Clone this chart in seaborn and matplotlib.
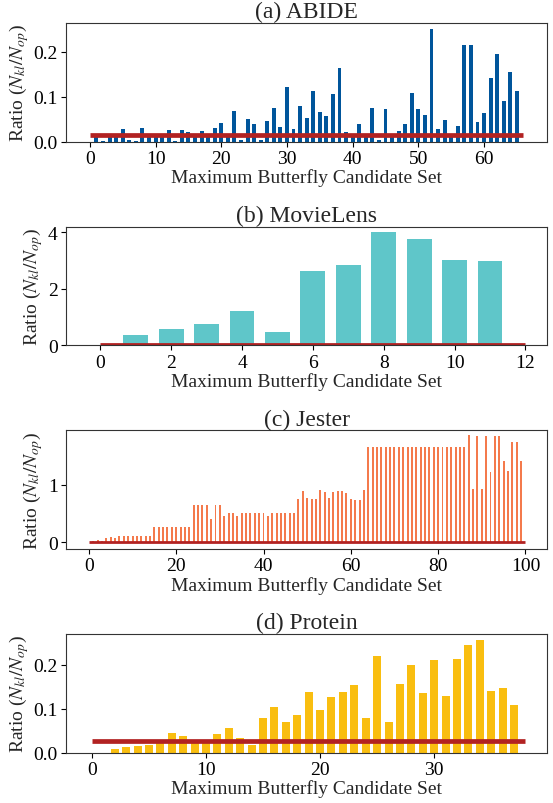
import numpy as np
import matplotlib
matplotlib.use("Agg")
import matplotlib.pyplot as plt
import seaborn as sns

# ---- data -----------------------------------------------------------------
abide_ratio = [
    0.0, 0.012, 0.002, 0.012, 0.012, 0.028, 0.0037, 0.0015, 0.030, 0.012,
    0.012, 0.012, 0.026, 0.0015, 0.026, 0.021, 0.012, 0.024, 0.012, 0.030,
    0.041, 0.012, 0.068, 0.0037, 0.050, 0.039, 0.0037, 0.0456, 0.0743, 0.032,
    0.1207, 0.028, 0.0787, 0.052, 0.112, 0.0655, 0.0567, 0.105, 0.1626, 0.021,
    0.012, 0.039, 0.012, 0.0743, 0.0037, 0.072, 0.012, 0.0235, 0.039, 0.1074,
    0.072, 0.0589, 0.251, 0.028, 0.0478, 0.012, 0.0346, 0.2156, 0.2156, 0.0434,
    0.0633, 0.1405, 0.1957, 0.0898, 0.1538, 0.1118, 0.0,
]
abide_baseline = 0.014

movielens_ratio = [0.0, 0.355, 0.568, 0.746, 1.207, 0.46, 2.63, 2.84, 4.0,
                   3.76, 3.02, 2.98]
movielens_baseline = 0.05

jester_ratio = [
    0.0, 0.015, 0.04, 0.015, 0.075, 0.093, 0.075,
    0.11, 0.11, 0.11, 0.11, 0.11, 0.11, 0.11, 0.11,
    0.266, 0.266, 0.266, 0.266, 0.266, 0.266, 0.266, 0.266, 0.266,
    0.648, 0.648, 0.648, 0.648, 0.405, 0.648, 0.648, 0.457,
    0.509, 0.509, 0.457, 0.509, 0.509, 0.509, 0.509, 0.509, 0.509,
    0.457, 0.509, 0.509, 0.509, 0.509, 0.509, 0.509,
    0.752, 0.891, 0.77, 0.75, 0.75, 0.909, 0.874, 0.77, 0.874, 0.891,
    0.891, 0.856, 0.75, 0.735, 0.735, 0.909,
    1.655, 1.655, 1.655, 1.655, 1.655, 1.655, 1.655, 1.655, 1.655, 1.655,
    1.655, 1.655, 1.655, 1.655, 1.655, 1.655, 1.655, 1.655, 1.655, 1.655,
    1.655, 1.655, 1.655,
    1.863, 0.926, 1.846, 0.926, 1.846, 1.221, 1.846, 1.846, 1.412, 1.238,
    1.742, 1.742, 1.412,
]
jester_baseline = 0.0

protein_ratio = [
    0.0, 0.0, 0.0083, 0.0128, 0.015, 0.0173, 0.025, 0.044, 0.0376, 0.025,
    0.025, 0.042, 0.0557, 0.033, 0.0173, 0.078, 0.103, 0.069, 0.085, 0.137,
    0.0963, 0.1257, 0.137, 0.153, 0.078, 0.2205, 0.069, 0.157, 0.200, 0.1347,
    0.211, 0.128, 0.2137, 0.2453, 0.2566, 0.139, 0.148, 0.1076,
]
protein_baseline = 0.026

# candidate-set sizes covered by the baseline line
abide_span = 66
movielens_span = 12
jester_span = 100
protein_span = 38

titles = ["(a) ABIDE", "(b) MovieLens", "(c) Jester", "(d) Protein"]
bar_colors = ["#00559B", "#5FC6C9", "#F47A4C", "#F9BE10"]
line_color = "#B22222"

# ---- style ----------------------------------------------------------------
sns.set_theme(style="ticks")
plt.rcParams["font.family"] = ["Liberation Serif", "DejaVu Serif"]
plt.rcParams["mathtext.fontset"] = "stix"
plt.rcParams["axes.linewidth"] = 0.8
plt.rcParams["axes.edgecolor"] = "#333333"
plt.rcParams["xtick.color"] = "black"
plt.rcParams["ytick.color"] = "black"

fig, axes = plt.subplots(4, 1, figsize=(5.53, 8.04), dpi=100)
fig.subplots_adjust(left=0.1194, right=0.9897, top=0.9701, bottom=0.0626,
                    hspace=0.717)

panels = [
    (abide_ratio, abide_baseline, abide_span, 0.6, 3.4),
    (movielens_ratio, movielens_baseline, movielens_span, 0.7, 2.0),
    (jester_ratio, jester_baseline, jester_span, 0.45, 2.0),
    (protein_ratio, protein_baseline, protein_span, 0.7, 3.4),
]

for ax, (vals, base, span, width, lw), title, color in zip(
        axes, panels, titles, bar_colors):
    pos = np.arange(len(vals))
    sns.barplot(x=pos, y=vals, native_scale=True, width=width, color=color,
                saturation=1, errorbar=None, linewidth=0, ax=ax)
    line_x = np.arange(span + 1)
    sns.lineplot(x=line_x, y=np.full(len(line_x), base), color=line_color,
                 linewidth=lw, solid_capstyle="butt", ax=ax)
    ax.set_title(title, fontsize=17, pad=4)
    ax.set_xlabel("Maximum Butterfly Candidate Set", fontsize=14, labelpad=1)
    ax.set_ylabel(r"Ratio ($N_{kl}/N_{op}$)", fontsize=14, labelpad=2)
    ax.tick_params(labelsize=14, length=3.5, width=0.8, pad=2.5)

axes[2].set_ylim(-0.116, 1.937)

fig.savefig("out.png", dpi=100)
